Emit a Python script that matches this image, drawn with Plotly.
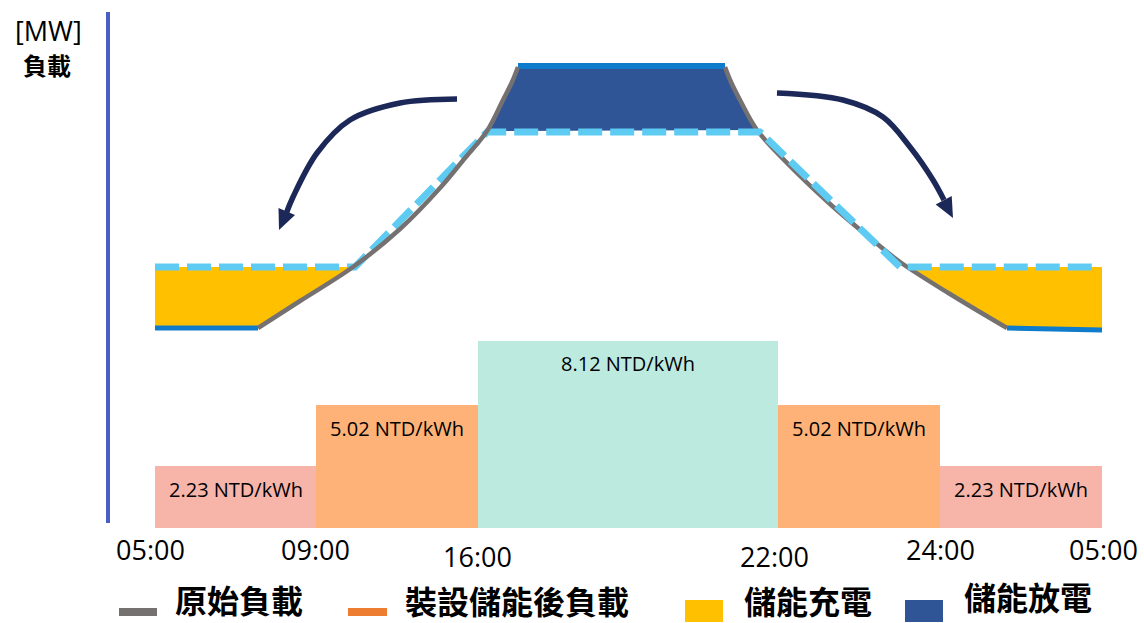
import plotly.graph_objects as go

# ---------------- data (schematic units: x = position along the day, 05:00 = 0; y = load) -------------
band_edges = [0, 161, 323, 623, 785, 947]
band_heights = [62, 123, 187, 123, 62]
band_prices = ["2.23 NTD/kWh", "5.02 NTD/kWh", "8.12 NTD/kWh", "5.02 NTD/kWh", "2.23 NTD/kWh"]
band_colors = ["#f7b4a8", "#ffb278", "#bdeadf", "#ffb278", "#f7b4a8"]

tick_pos = [-5, 160, 322, 619, 785, 948]
tick_labels = ["05:00", "09:00", "16:00", "22:00", "24:00", "05:00"]

# original load (gray curve), morning rise and evening fall
orig_rise_x = [103, 145, 198, 245, 285, 310, 332, 348, 357, 363]
orig_rise_y = [200, 227, 261, 299, 340, 370, 397, 428, 446, 461]
orig_fall_x = [570, 576, 585, 602, 635, 675, 715, 745, 795, 852]
orig_fall_y = [461, 446, 428, 398, 362, 324, 290, 266, 234, 200]

# flat parts of load (blue)
base_left_x = [0, 103]
base_left_y = [200, 200]
base_right_x = [852, 947]
base_right_y = [200, 198]
peak_x = [363, 570]
peak_y = [462, 462]

# load after storage (dashed)
after_x = [0, 200, 332, 605, 745, 943]
after_y = [261, 261, 396, 396, 261, 261]

# charge areas (yellow) and discharge area (dark blue)
charge_left_x = [0, 198, 145, 103, 0]
charge_left_y = [261, 261, 227, 200, 200]
charge_right_x = [753, 947, 947, 852, 795, 753]
charge_right_y = [261, 261, 198, 200, 234, 261]
discharge_x = [332, 348, 357, 363, 570, 576, 585, 602, 332]
discharge_y = [397, 428, 446, 461, 461, 446, 428, 398, 397]

# shifting arrows
arrow_l_x = [302, 245, 195, 162, 138, 131]
arrow_l_y = [429, 425, 408, 375, 331, 314]
head_l_x = [124, 140, 123.5, 124]
head_l_y = [298, 313, 320, 298]
arrow_r_x = [622, 688, 728, 755, 778, 789]
arrow_r_y = [435, 428, 411, 381, 348, 328]
head_r_x = [798, 796.7, 780.7, 798]
head_r_y = [310, 332, 323.5, 310]

legend_labels = ["原始負載", "裝設儲能後負載", "儲能充電", "儲能放電"]

# ---------------- styles ----------------
GRAY = "#767171"
BLUE_LINE = "#0e7bcb"
DASH = "#5ecbf3"
YELLOW = "#ffc000"
DARK = "#2f5597"
ARROW = "#1c2857"
CJK = "Noto Sans CJK TC"
LAT = "Open Sans, Noto Sans, sans-serif"

fig = go.Figure()

centers = [(band_edges[i] + band_edges[i + 1]) / 2 for i in range(len(band_heights))]
widths = [band_edges[i + 1] - band_edges[i] for i in range(len(band_heights))]
fig.add_trace(go.Bar(x=centers, y=band_heights, width=widths, base=0,
                     marker=dict(color=band_colors, line=dict(width=0)), hoverinfo="skip"))

def area(xs, ys, color):
    fig.add_trace(go.Scatter(x=xs, y=ys, mode="lines", fill="toself", fillcolor=color,
                             line=dict(width=0, color=color), hoverinfo="skip"))

def line(xs, ys, color, width, dash=None, shape="linear"):
    fig.add_trace(go.Scatter(x=xs, y=ys, mode="lines",
                             line=dict(color=color, width=width, dash=dash, shape=shape),
                             hoverinfo="skip"))

area(charge_left_x, charge_left_y, YELLOW)
area(charge_right_x, charge_right_y, YELLOW)
area(discharge_x, discharge_y, DARK)

line(base_left_x, base_left_y, BLUE_LINE, 5)
line(base_right_x, base_right_y, BLUE_LINE, 5)
line(peak_x, peak_y, BLUE_LINE, 6)
line(orig_fall_x, orig_fall_y, GRAY, 4.5, shape="spline")
line(after_x, after_y, DASH, 7, dash="24px,8px")
line(orig_rise_x, orig_rise_y, GRAY, 4.5, shape="spline")

line(arrow_l_x, arrow_l_y, ARROW, 5.5, shape="spline")
area(head_l_x, head_l_y, ARROW)
line(arrow_r_x, arrow_r_y, ARROW, 5.5, shape="spline")
area(head_r_x, head_r_y, ARROW)

annotations = []
# vertical axis line + title
fig.add_shape(type="line", x0=-47, x1=-47, y0=5, y1=516, line=dict(color="#4a5fc4", width=4))
annotations.append(dict(x=-107, y=498, text="[MW]", font=dict(family=LAT, size=27, color="#000")))
annotations.append(dict(x=-108, y=464, text="<b>負載</b>", font=dict(family=CJK, size=24, color="#000")))

# price labels
label_levels = [39, 100, 165, 100, 39]
for cx, lv, txt in zip(centers, label_levels, band_prices):
    annotations.append(dict(x=cx, y=lv, text=txt, font=dict(family=LAT, size=20, color="#000")))

# time tick labels (staggered)
tick_levels = [-21, -21, -28, -28, -21, -21]
for tx, lv, txt in zip(tick_pos, tick_levels, tick_labels):
    annotations.append(dict(x=tx, y=lv, text=txt, font=dict(family=LAT, size=27, color="#000")))

# legend
swatches = [(-36, 2, -80, -88, GRAY), (193, 232, -80, -88, "#ed7d31"),
            (530, 568, -72, -94, YELLOW), (750, 788, -72, -94, DARK)]
for x0, x1, y0, y1, c in swatches:
    fig.add_shape(type="rect", x0=x0, x1=x1, y0=y0, y1=y1, fillcolor=c, line=dict(width=0))
leg_pos = [(18, -71), (248, -72), (587, -72), (807, -68)]
for (lx, ly), txt in zip(leg_pos, legend_labels):
    annotations.append(dict(x=lx, y=ly, text="<b>" + txt + "</b>", xanchor="left",
                            font=dict(family=CJK, size=32, color="#000")))

for a in annotations:
    a.setdefault("xanchor", "center")
    a.update(xref="x", yref="y", showarrow=False, yanchor="middle")

fig.update_layout(
    width=1144, height=623, margin=dict(l=0, r=0, t=0, b=0),
    paper_bgcolor="white", plot_bgcolor="white", showlegend=False,
    xaxis=dict(range=[-155, 989], visible=False, fixedrange=True),
    yaxis=dict(range=[-95, 528], visible=False, fixedrange=True),
    annotations=annotations, barmode="overlay",
)
fig.write_html("out.html", config={"displayModeBar": False})
